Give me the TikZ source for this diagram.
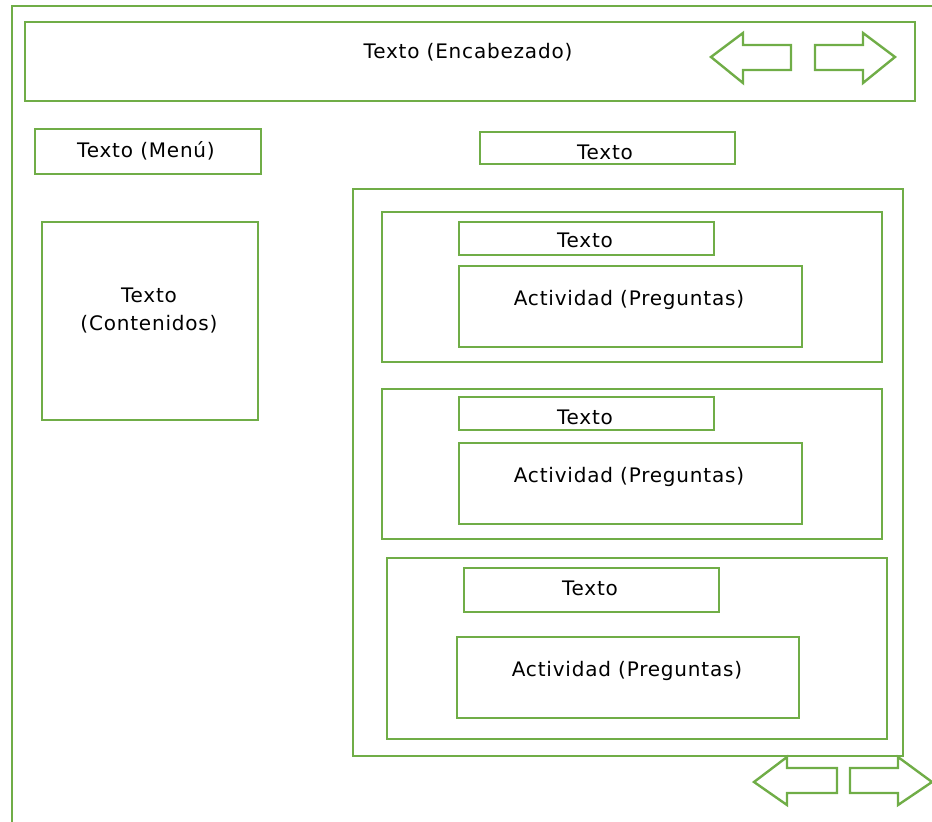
\documentclass[tikz,border=0pt]{standalone}
\usepackage{fontspec}
\setmainfont{DejaVu Sans}[LetterSpace=4]
\usetikzlibrary{fit}
\definecolor{frame}{RGB}{112,173,71}

\begin{document}
\begin{tikzpicture}[x=0.5pt,y=-0.5pt,
    box/.style={draw=frame, line width=1.2pt, inner sep=0pt},
    txt/.style={font=\fontsize{10}{14}\selectfont, align=center, inner sep=0pt},
    navarrow/.style={draw=frame, line width=1.2pt, line join=miter}]
  \useasboundingbox (0,0) rectangle (932,822);

  % Define page frame
  \draw[frame, line width=1.2pt] (12,822) -- (12,6) -- (932,6);

  % Define header
  \node[box, fit={(25,22) (915,101)}] (head) {};
  \node[txt] (headtxt) at (468,52) {Texto (Encabezado)};
  \draw[navarrow] (711,57) -- (743,33) -- (743,45) -- (791,45) -- (791,70) -- (743,70) -- (743,83) -- cycle;
  \draw[navarrow] (895,57) -- (863,33) -- (863,45) -- (815,45) -- (815,70) -- (863,70) -- (863,83) -- cycle;

  % Define left column
  \node[box, fit={(35,129) (261,174)}] (menu) {};
  \node[txt] (menutxt) at (146,151) {Texto (Menú)};
  \node[box, fit={(42,222) (258,420)}] (cont) {};
  \node[txt] (conttxt) at (149,311) {Texto\\(Contenidos)};

  % Define right column
  \node[box, fit={(480,132) (735,164)}] (title) {};
  \node[txt] (titletxt) at (605,152) {Texto};
  \node[box, fit={(353,189) (903,756)}] (main) {};

  % Define activity panels
  \node[box, fit={(382,212) (882,362)}] (p1) {};
  \node[box, fit={(459,222) (714,255)}] (t1) {};
  \node[txt] (t1txt) at (585,240) {Texto};
  \node[box, fit={(459,266) (802,347)}] (a1) {};
  \node[txt] (a1txt) at (629,300) {Actividad (Preguntas)};

  \node[box, fit={(382,389) (882,539)}] (p2) {};
  \node[box, fit={(459,397) (714,430)}] (t2) {};
  \node[txt] (t2txt) at (585,417) {Texto};
  \node[box, fit={(459,443) (802,524)}] (a2) {};
  \node[txt] (a2txt) at (629,477) {Actividad (Preguntas)};

  \node[box, fit={(387,558) (887,739)}] (p3) {};
  \node[box, fit={(464,568) (719,612)}] (t3) {};
  \node[txt] (t3txt) at (590,588) {Texto};
  \node[box, fit={(457,637) (799,718)}] (a3) {};
  \node[txt] (a3txt) at (627,671) {Actividad (Preguntas)};

  % Define footer arrows
  \draw[navarrow] (754,782) -- (787,757) -- (787,768) -- (837,768) -- (837,793) -- (787,793) -- (787,805) -- cycle;
  \draw[navarrow] (932,782) -- (898,757) -- (898,768) -- (850,768) -- (850,793) -- (898,793) -- (898,805) -- cycle;

\end{tikzpicture}
\end{document}
